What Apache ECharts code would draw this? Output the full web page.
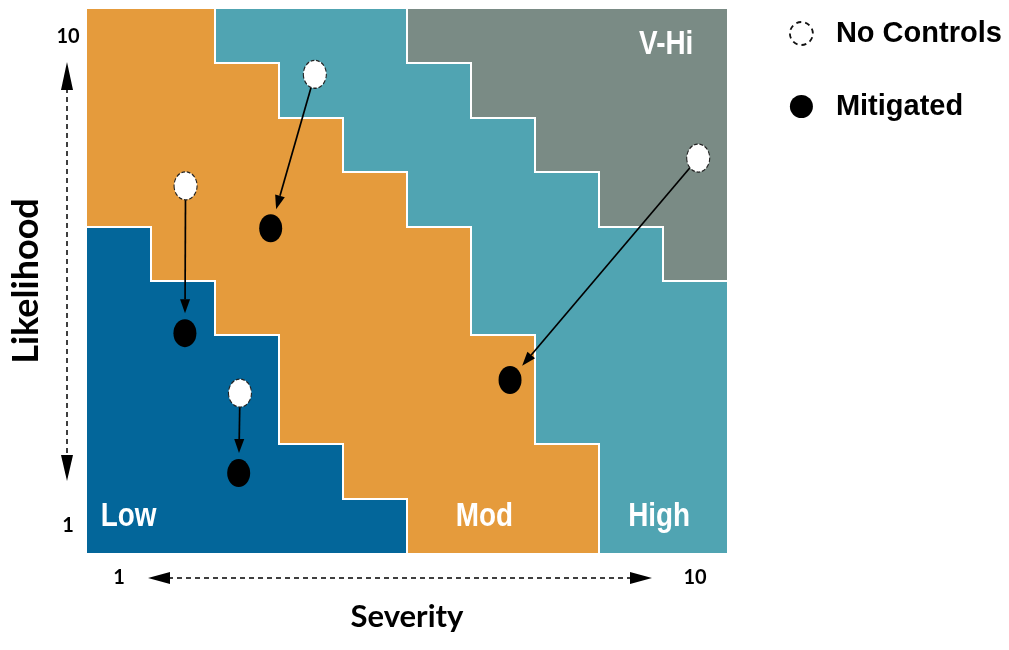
<!DOCTYPE html>
<html><head><meta charset="utf-8">
<script src="https://cdn.jsdelivr.net/npm/echarts@6/dist/echarts.min.js"></script>
<style>html,body{margin:0;padding:0;background:#fff}#c{width:1009px;height:650px}</style>
</head><body><div id="c"></div>
<script>
// ---- data ----
const severityTicks = [1, 10];
const likelihoodTicks = [1, 10];
const zoneNames = ['Low', 'Mod', 'High', 'V-Hi'];
// zone index for each severity column 1..10, listed from likelihood 1 (bottom) up to 10 (top)
const zoneColumns = [
  [0,0,0,0,0,0,1,1,1,1],
  [0,0,0,0,0,1,1,1,1,1],
  [0,0,0,0,1,1,1,1,1,2],
  [0,0,1,1,1,1,1,1,2,2],
  [0,1,1,1,1,1,1,2,2,2],
  [1,1,1,1,1,1,2,2,2,3],
  [1,1,1,1,2,2,2,2,3,3],
  [1,1,2,2,2,2,2,3,3,3],
  [2,2,2,2,2,2,3,3,3,3],
  [2,2,2,2,2,3,3,3,3,3]
];
const noControls = [[4.06, 9.30], [2.04, 7.25], [2.89, 3.44], [10.05, 7.76]];
const mitigated  = [[3.37, 6.47], [2.03, 4.54], [2.87, 1.97], [7.11, 3.68]];
const zoneLabelAt = [[1.15, 1.16], [6.71, 1.16], [9.44, 1.16], [9.55, 9.85]];

// ---- styles ----
const zoneColors = ['#03669A', '#E59B3C', '#50A4B2', '#7A8B85'];
const sans = '"Liberation Sans", Arial, sans-serif';
const calib = 'Lato, "Open Sans", sans-serif';
const ellipse = 'path://M0,1A1,1,0,1,0,2,1A1,1,0,1,0,0,1Z';
const PT_W = 23, PT_H = 28;

const cellData = [];
zoneColumns.forEach((col, c) => col.forEach((z, r) => cellData.push([c + 1, r + 1, z])));
const zoneAt = (c, r) => zoneColumns[c - 1][r - 1];

const arrowData = noControls.map((p, i) => [p[0], p[1], mitigated[i][0], mitigated[i][1]]);
const labelData = zoneLabelAt.map((p, i) => [p[0], p[1], i]);

function ellipseR(dx, dy) {
  const a = PT_W / 2, b = PT_H / 2;
  return 1 / Math.sqrt((dx / a) * (dx / a) + (dy / b) * (dy / b));
}
function cellBox(api, x, y) {
  const p0 = api.coord([x - 0.5, y + 0.5]);
  const p1 = api.coord([x + 0.5, y - 0.5]);
  return [Math.round(p0[0]), Math.round(p0[1]), Math.round(p1[0]), Math.round(p1[1])];
}

const chart = echarts.init(document.getElementById('c'));
chart.setOption({
  animation: false,
  backgroundColor: '#fff',
  grid: { left: 86, top: 9, width: 641, height: 544, containLabel: false },
  xAxis: {
    type: 'value', min: 0.5, max: 10.5,
    name: 'Severity', nameLocation: 'middle', nameGap: 64,
    nameTextStyle: { fontFamily: calib, fontWeight: 'bold', fontSize: 31, color: '#000', verticalAlign: 'middle' },
    axisLine: { show: false }, axisTick: { show: false }, splitLine: { show: false },
    axisLabel: { customValues: severityTicks, fontFamily: calib, fontWeight: 'bold', fontSize: 20, color: '#000', margin: 25, verticalAlign: 'middle' }
  },
  yAxis: {
    type: 'value', min: 0.5, max: 10.5,
    name: 'Likelihood', nameLocation: 'middle', nameGap: 61,
    nameTextStyle: { fontFamily: calib, fontWeight: 'bold', fontSize: 36, color: '#000', verticalAlign: 'middle', align: 'center' },
    axisLine: { show: false }, axisTick: { show: false }, splitLine: { show: false },
    axisLabel: { customValues: likelihoodTicks, fontFamily: calib, fontWeight: 'bold', fontSize: 20, color: '#000', margin: 19, align: 'center' }
  },
  legend: {
    orient: 'vertical', left: 789, top: 19, padding: 0, itemWidth: PT_W, itemHeight: PT_H, itemGap: 44,
    textStyle: { fontFamily: sans, fontWeight: 'bold', fontSize: 29, color: '#000', padding: [0, 0, 0, 18] },
    data: [
      { name: 'No Controls', icon: ellipse, itemStyle: { color: '#fff', borderColor: '#111', borderWidth: 1.8, borderType: [5, 4] } },
      { name: 'Mitigated', icon: ellipse, itemStyle: { color: '#000', borderWidth: 0 } }
    ]
  },
  graphic: [
    { type: 'line', shape: { x1: 67, y1: 88, x2: 67, y2: 457 }, style: { stroke: '#000', lineWidth: 1.5, lineDash: [5, 4] } },
    { type: 'polygon', shape: { points: [[67, 62], [61, 90], [73, 90]] }, style: { fill: '#000' } },
    { type: 'polygon', shape: { points: [[67, 481], [61, 455], [73, 455]] }, style: { fill: '#000' } },
    { type: 'line', shape: { x1: 168, y1: 578, x2: 632, y2: 578 }, style: { stroke: '#000', lineWidth: 1.5, lineDash: [5, 4] } },
    { type: 'polygon', shape: { points: [[148, 578], [170, 572], [170, 584]] }, style: { fill: '#000' } },
    { type: 'polygon', shape: { points: [[652, 578], [630, 572], [630, 584]] }, style: { fill: '#000' } }
  ],
  series: [
    {
      type: 'custom', name: 'zones', silent: true, z: 1,
      data: cellData,
      renderItem: function (params, api) {
        const b = cellBox(api, api.value(0), api.value(1));
        return { type: 'rect', shape: { x: b[0], y: b[1], width: b[2] - b[0], height: b[3] - b[1] }, style: { fill: zoneColors[api.value(2)] } };
      }
    },
    {
      type: 'custom', name: 'zoneBorders', silent: true, z: 2,
      data: cellData,
      renderItem: function (params, api) {
        const x = api.value(0), y = api.value(1), z = api.value(2);
        const b = cellBox(api, x, y);
        const children = [];
        const st = { stroke: '#fff', lineWidth: 2, lineCap: 'square' };
        if (x < 10 && zoneAt(x + 1, y) !== z) children.push({ type: 'line', shape: { x1: b[2], y1: b[1], x2: b[2], y2: b[3] }, style: st });
        if (y < 10 && zoneAt(x, y + 1) !== z) children.push({ type: 'line', shape: { x1: b[0], y1: b[1], x2: b[2], y2: b[1] }, style: st });
        return { type: 'group', children: children };
      }
    },
    {
      type: 'custom', name: 'zoneLabels', silent: true, z: 3,
      data: labelData,
      renderItem: function (params, api) {
        const p = api.coord([api.value(0), api.value(1)]);
        return { type: 'text', x: p[0], y: p[1], scaleX: 0.82, style: { text: zoneNames[api.value(2)], fill: '#fff', font: 'bold 34px ' + sans, align: 'center', verticalAlign: 'middle' } };
      }
    },
    {
      type: 'custom', name: 'arrows', silent: true, z: 4,
      data: arrowData,
      renderItem: function (params, api) {
        const a = api.coord([api.value(0), api.value(1)]);
        const b = api.coord([api.value(2), api.value(3)]);
        const dx = b[0] - a[0], dy = b[1] - a[1];
        const len = Math.sqrt(dx * dx + dy * dy);
        const ux = dx / len, uy = dy / len;
        const r = ellipseR(ux, uy);
        const s = [a[0] + ux * r, a[1] + uy * r];
        const tip = [b[0] - ux * (r + 6), b[1] - uy * (r + 6)];
        const hl = 14, hw = 5;
        const base = [tip[0] - ux * hl, tip[1] - uy * hl];
        const px = -uy, py = ux;
        return { type: 'group', children: [
          { type: 'line', shape: { x1: s[0], y1: s[1], x2: base[0], y2: base[1] }, style: { stroke: '#000', lineWidth: 1.7 } },
          { type: 'polygon', shape: { points: [tip, [base[0] + px * hw, base[1] + py * hw], [base[0] - px * hw, base[1] - py * hw]] }, style: { fill: '#000' } }
        ] };
      }
    },
    {
      type: 'scatter', name: 'No Controls', z: 5, symbol: ellipse, symbolSize: [PT_W, PT_H],
      itemStyle: { color: '#fff', borderColor: '#222', borderWidth: 1.2, borderType: [4, 2], opacity: 1 },
      data: noControls
    },
    {
      type: 'scatter', name: 'Mitigated', z: 5, symbol: ellipse, symbolSize: [PT_W, PT_H],
      itemStyle: { color: '#000', opacity: 1 },
      data: mitigated
    }
  ]
});
</script></body></html>
